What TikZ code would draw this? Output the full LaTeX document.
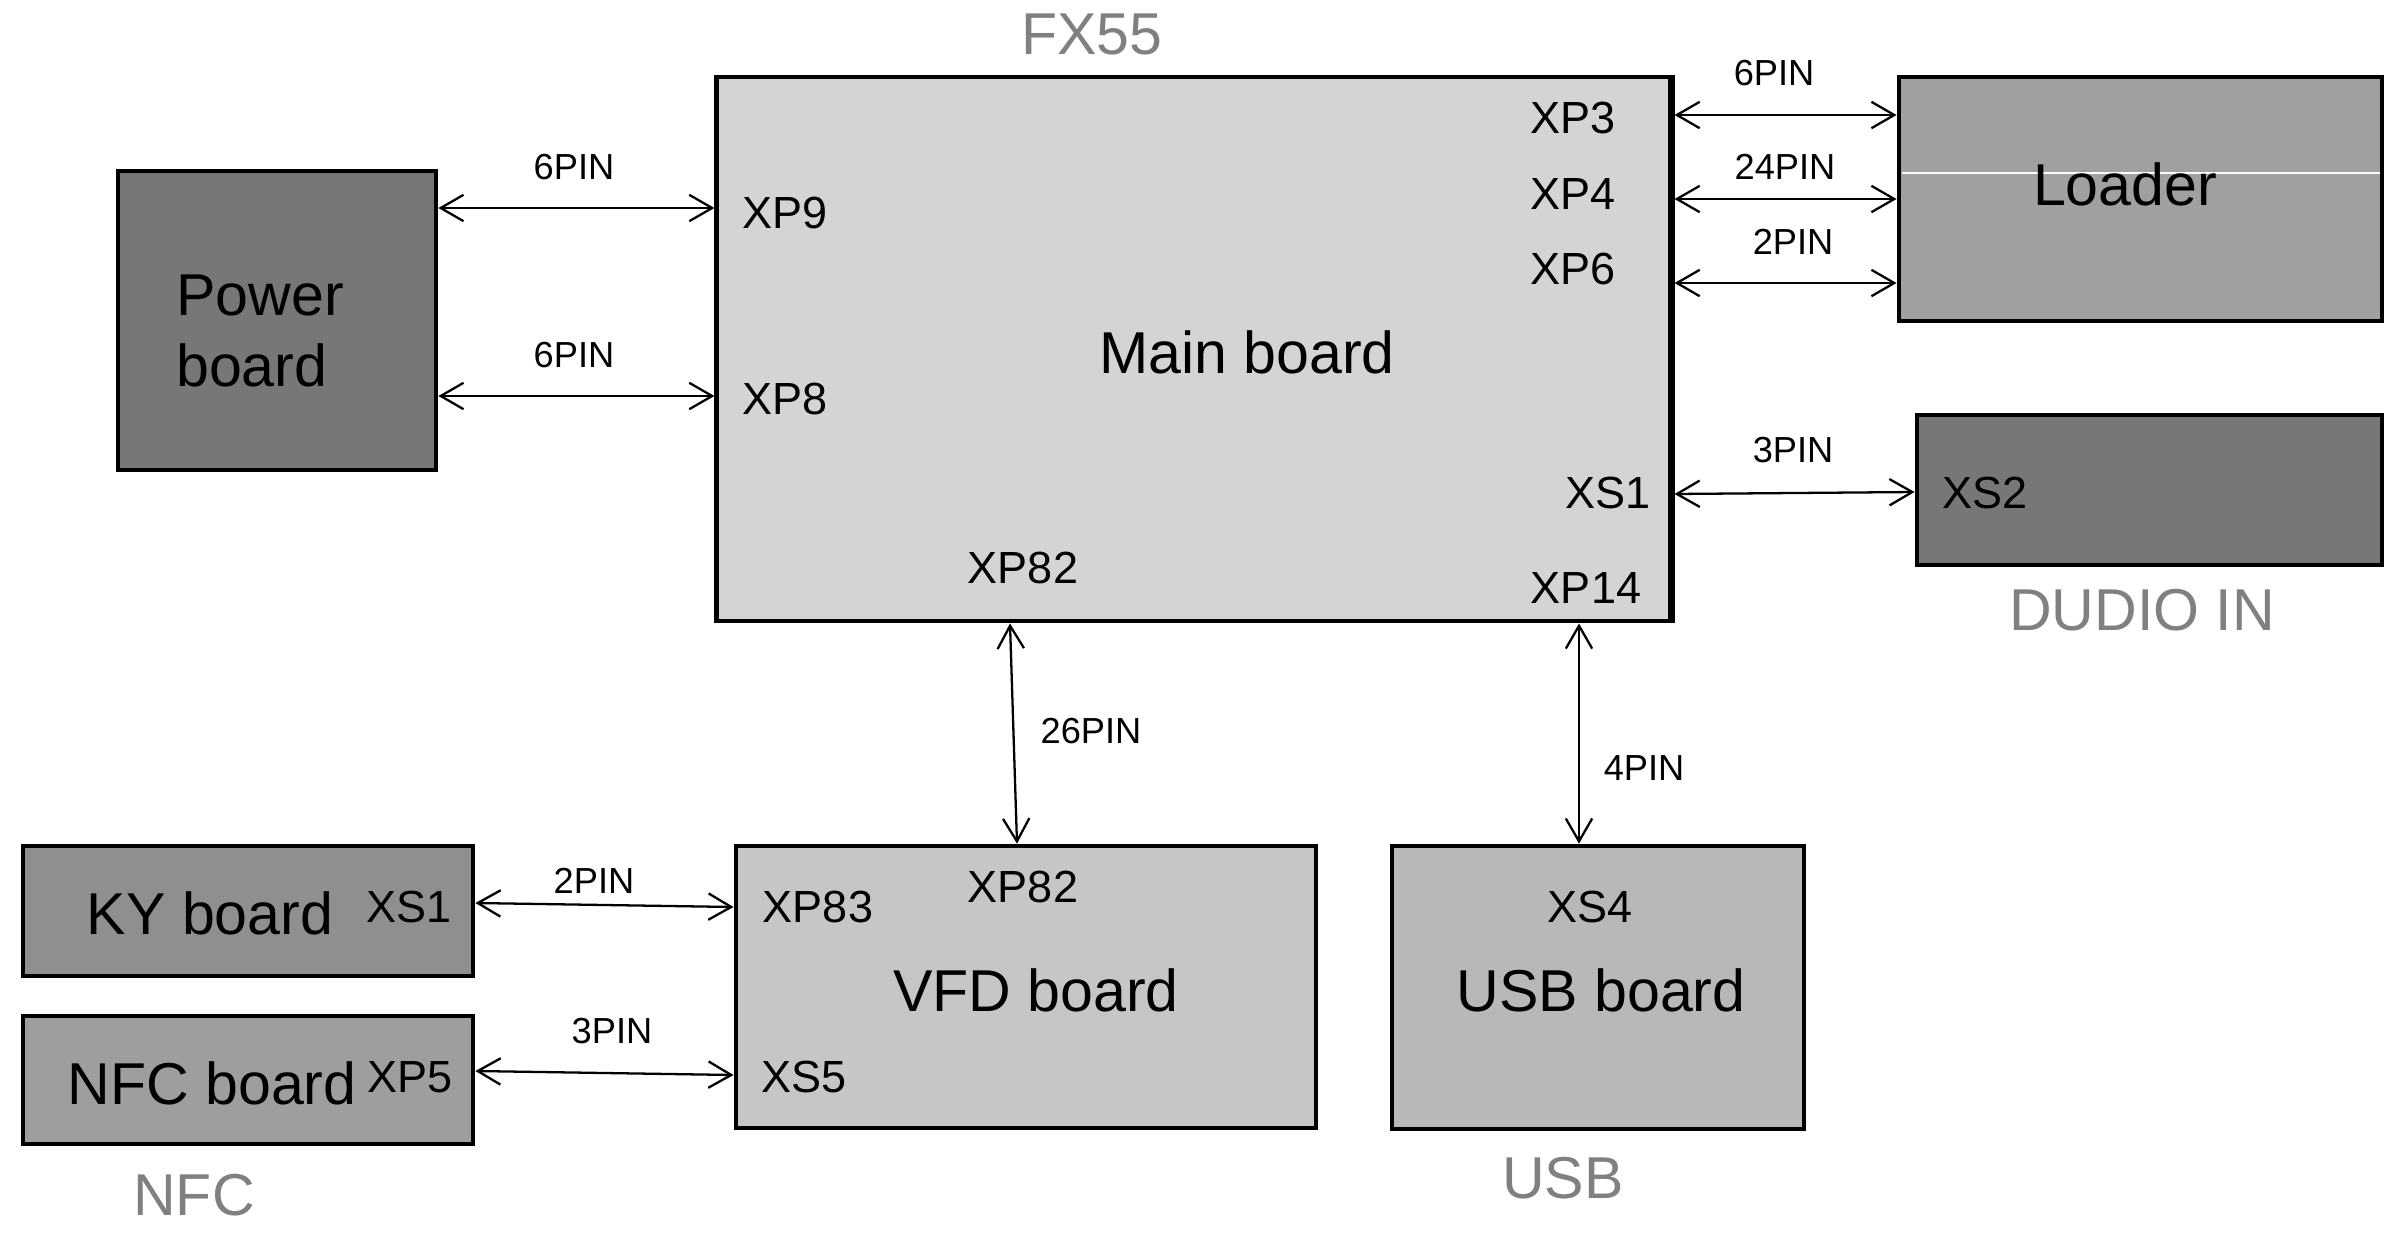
\documentclass[tikz,border=0pt]{standalone}
\usepackage{fontspec}
\setmainfont{Liberation Sans}
\usetikzlibrary{arrows.meta}

\definecolor{mainfill}{HTML}{D4D4D4}
\definecolor{powerfill}{HTML}{777777}
\definecolor{loaderfill}{HTML}{A0A0A0}
\definecolor{kyfill}{HTML}{8F8F8F}
\definecolor{nfcfill}{HTML}{9E9E9E}
\definecolor{vfdfill}{HTML}{C6C6C6}
\definecolor{usbfill}{HTML}{B8B8B8}
\definecolor{tagcolor}{HTML}{808080}

\begin{document}
\begin{tikzpicture}[
    x=0.01cm, y=-0.01cm,
    board/.style={rectangle, draw, line width=1.3pt, inner sep=0pt},
    bigtext/.style={inner sep=0pt, font=\fontsize{16.8}{20.4}\selectfont, align=center},
    conn/.style={inner sep=0pt, font=\fontsize{12.8}{15}\selectfont},
    pin/.style={inner sep=0pt, font=\fontsize{10.3}{12}\selectfont},
    tag/.style={inner sep=0pt, text=tagcolor, font=\fontsize{16.8}{20}\selectfont},
    link/.style={line width=0.65pt, {Straight Barb[length=6.5pt,width=7.5pt]}-{Straight Barb[length=6.5pt,width=7.5pt]}}
]
\useasboundingbox (0,0) rectangle (2399,1236);

% Boards
\node[board, fill=mainfill, minimum width=9.55cm, minimum height=5.44cm] (main) at (1194.5,349) {};
\node[board, fill=powerfill, minimum width=3.18cm, minimum height=2.99cm] (power) at (277,320.5) {};
\node[board, fill=loaderfill, minimum width=4.83cm, minimum height=2.44cm] (loader) at (2140.5,199) {};
\node[board, fill=powerfill, minimum width=4.65cm, minimum height=1.50cm] (audio) at (2149.5,490) {};
\node[board, fill=kyfill, minimum width=4.50cm, minimum height=1.30cm] (ky) at (248,911) {};
\node[board, fill=nfcfill, minimum width=4.50cm, minimum height=1.28cm] (nfc) at (248,1080) {};
\node[board, fill=vfdfill, minimum width=5.80cm, minimum height=2.82cm] (vfd) at (1026,987) {};
\node[board, fill=usbfill, minimum width=4.12cm, minimum height=2.83cm] (usb) at (1598,987.5) {};

% second edge on the main board, thin line across the loader
\draw[line width=0.6pt] ([xshift=-0.06cm]main.north east) -- ([xshift=-0.06cm]main.south east);
\draw[white, line width=0.4pt, shorten <=1.4pt, shorten >=1.4pt] (loader.west |- 0,173) -- (loader.east |- 0,173);

% Board names
\node[bigtext] (mainname) at (1247,352) {Main board};
\node[bigtext, align=left] (powername) at (260,331) {Power\\board};
\node[bigtext] (loadername) at (2125,184) {Loader};
\node[bigtext] (kyname) at (210,913) {KY board};
\node[bigtext] (nfcname) at (212,1083) {NFC board};
\node[bigtext] (vfdname) at (1036,990) {VFD board};
\node[bigtext] (usbname) at (1601,990) {USB board};

% Connectors
\node[conn] (xp9) at (785,213) {XP9};
\node[conn] (xp8) at (785,399) {XP8};
\node[conn] (xp3) at (1573,118) {XP3};
\node[conn] (xp4) at (1573,194) {XP4};
\node[conn] (xp6) at (1573,269) {XP6};
\node[conn] (xs1) at (1608,493) {XS1};
\node[conn] (xp14) at (1586,588) {XP14};
\node[conn] (xp82) at (1023,568) {XP82};
\node[conn] (xs2) at (1985,493) {XS2};
\node[conn] (kyxs1) at (409,907) {XS1};
\node[conn] (xp5) at (410,1077) {XP5};
\node[conn] (xp83) at (818,907) {XP83};
\node[conn] (vfdxp82) at (1023,887) {XP82};
\node[conn] (xs5) at (804,1077) {XS5};
\node[conn] (xs4) at (1590,907) {XS4};

% Arrows
\draw[link] (power.east |- 0,208) -- (main.west |- 0,208);
\draw[link] (power.east |- 0,396) -- (main.west |- 0,396);
\draw[link] (main.east |- 0,115) -- (loader.west |- 0,115);
\draw[link] (main.east |- 0,199) -- (loader.west |- 0,199);
\draw[link] (main.east |- 0,283) -- (loader.west |- 0,283);
\draw[link] (main.east |- 0,494) -- (audio.west |- 0,492);
\draw[link] (main.south -| 1010,0) -- (vfd.north -| 1017,0);
\draw[link] (main.south -| 1579,0) -- (usb.north -| 1579,0);
\draw[link] (ky.east |- 0,903) -- (vfd.west |- 0,907);
\draw[link] (nfc.east |- 0,1071) -- (vfd.west |- 0,1075);

% Labels
\node[pin] (pin9) at (574,167) {6PIN};
\node[pin] (pin8) at (574,355) {6PIN};
\node[pin] (pin3) at (1774,73) {6PIN};
\node[pin] (pin4) at (1785,167) {24PIN};
\node[pin] (pin6) at (1793,242) {2PIN};
\node[pin] (pinxs) at (1793,450) {3PIN};
\node[pin] (pin82) at (1091,731) {26PIN};
\node[pin] (pin14) at (1644,768) {4PIN};
\node[pin] (pinky) at (594,881) {2PIN};
\node[pin] (pinnfc) at (612,1031) {3PIN};

\node[tag] (fx55) at (1092,34) {FX55};
\node[tag] (audiotag) at (2142,610) {DUDIO IN};
\node[tag] (nfctag) at (194,1195) {NFC};
\node[tag] (usbtag) at (1563,1178) {USB};

\end{tikzpicture}
\end{document}
